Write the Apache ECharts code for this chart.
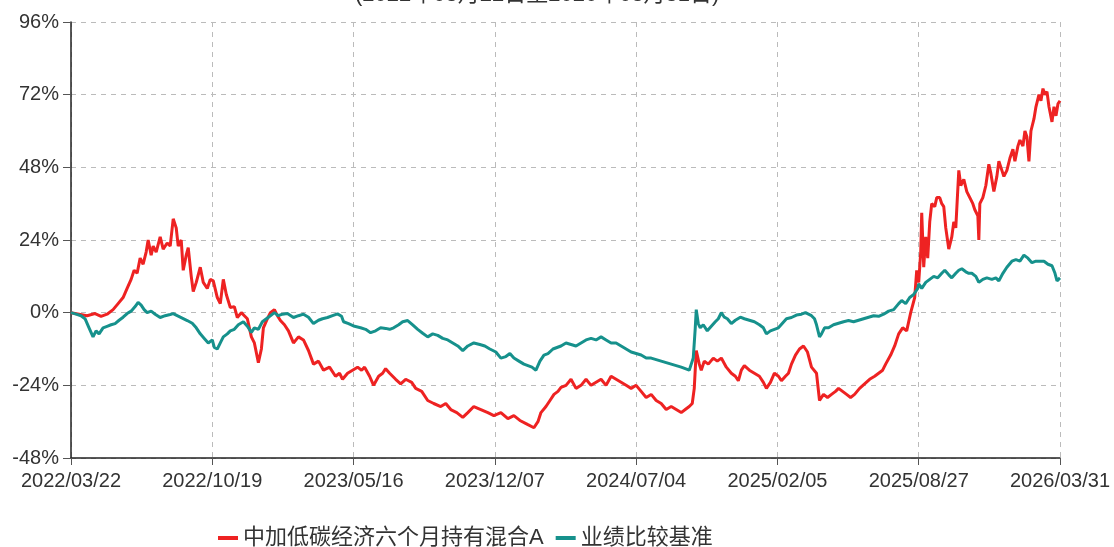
<!DOCTYPE html>
<html>
<head>
<meta charset="utf-8">
<script src="https://cdn.jsdelivr.net/npm/echarts@6/dist/echarts.min.js"></script>
<style>
html,body{margin:0;padding:0;background:#fff;}
#chart{width:1114px;height:547px;}
</style>
</head>
<body>
<div id="chart"></div>
<script>
var titleText = "(2022年03月22日至2026年03月31日)";
var seriesNames = ["中加低碳经济六个月持有混合A", "业绩比较基准"];
var tickLabels = ["2022/03/22","2022/10/19","2023/05/16","2023/12/07","2024/07/04","2025/02/05","2025/08/27","2026/03/31"];
var yTicks = [-48, -24, 0, 24, 48, 72, 96];
var dayStep = 141;
var lastDay = 987;

// [trading-day index, cumulative return %]
var fundPoints = [
[0,0],[8,-0.5],[16,-1],[24,-0.3],[30,-1.2],[36,-0.5],[42,1],[47,3],[52,5],[56,8],[60,11],[63,14],[66,13],[69,18],[72,16],[75,20],[77,24],[80,19],[82,22],[85,20],[89,25],[92,21],[96,23],[99,22],[102,31],[105,28],[107,22],[110,24],[112,14],[115,19],[117,21.5],[120,12],[122,7],[125,10],[129,15],[132,10],[136,8],[139,11],[142,10.5],[146,5],[149,3],[152,11],[155,6],[159,1.7],[163,2],[166,-1.6],[170,0],[173,-1],[176,-2],[180,-8],[183,-10],[187,-16.5],[190,-12],[192,-5],[196,-2],[199,0],[203,1],[206,-1],[209,-2.6],[213,-4],[217,-6],[222,-10],[227,-8],[232,-9],[237,-12.5],[242,-17],[247,-16],[252,-19],[258,-18],[264,-21],[268,-20],[271,-22],[276,-20],[281,-19],[286,-18],[290,-19],[293,-18],[298,-21],[302,-24],[307,-21],[311,-20],[314,-18.5],[318,-20],[324,-22],[329,-23.5],[334,-22],[340,-23],[344,-25],[350,-26],[356,-29],[362,-30],[369,-31],[374,-30],[379,-32],[385,-33],[391,-34.6],[396,-33],[402,-31],[409,-32],[416,-33],[422,-34],[429,-33],[436,-35],[442,-34],[448,-35.6],[456,-37],[462,-38],[466,-36],[469,-33],[474,-31],[478,-29],[482,-27],[486,-26],[489,-24.7],[494,-24],[499,-22],[504,-25],[509,-24],[514,-22],[519,-24],[524,-23],[529,-22],[534,-24],[539,-21],[544,-22],[549,-23],[554,-24],[559,-25],[564,-24],[569,-26],[574,-28],[579,-27],[584,-29],[589,-30],[594,-32],[599,-31],[604,-32],[609,-33],[613,-32],[617,-31],[620,-30],[622,-25],[624,-12.5],[627,-17],[629,-19],[632,-16],[636,-17],[641,-15],[645,-16],[649,-15],[654,-18],[659,-20],[663,-21],[666,-22.5],[669,-19],[672,-17.5],[677,-19],[682,-20],[687,-21],[691,-23],[694,-25],[698,-23],[702,-20],[706,-21],[709,-22.5],[713,-21],[716,-20],[719,-17],[723,-14],[727,-12],[731,-11],[735,-13],[739,-18],[744,-20],[747,-29],[751,-27],[755,-28],[759,-27],[763,-26],[766,-25],[770,-26],[774,-27],[778,-28],[782,-27],[787,-25],[792,-23.5],[797,-22],[802,-21],[806,-20],[810,-19],[813,-17],[818,-14],[822,-11],[826,-7],[830,-5],[834,-6],[838,0],[842,5],[844,14],[846,10],[848,20],[849,33],[851,15],[853,25],[855,18],[857,30],[859,36],[862,35],[864,38],[867,38],[869,36],[871,35],[873,28],[876,21],[879,25],[881,30],[883,28],[886,47],[888,42],[891,44],[894,40],[897,38],[900,36],[902,34],[905,32],[906,24],[907,36],[910,38],[913,42],[916,49],[918,46],[921,40],[924,45],[926,50],[929,47],[931,45],[934,47],[937,51],[940,54],[942,50],[945,55],[947,57],[950,55],[952,60],[954,58],[956,50],[958,60],[961,64],[963,68],[966,72],[968,70],[970,74],[972,72],[974,73],[976,68],[979,63],[981,68],[983,65],[985,69],[987,70]
];

var benchPoints = [
[0,0],[5,-0.5],[10,-1],[14,-2],[18,-5],[22,-8],[25,-6],[28,-7],[32,-5],[36,-4.5],[40,-4],[44,-3.6],[48,-2.5],[52,-1.5],[56,-0.3],[60,0.5],[64,2],[67,3.4],[70,2.5],[73,1],[76,0],[80,0.5],[84,-0.5],[89,-1.6],[94,-1],[99,-0.6],[102,-0.3],[106,-1],[111,-1.8],[116,-2.6],[121,-3.5],[125,-5],[129,-7],[133,-8.5],[137,-10],[141,-9],[143,-11.5],[146,-12],[149,-10],[152,-8],[156,-7],[159,-6],[163,-5.5],[167,-4],[172,-3],[176,-4.5],[180,-6.5],[183,-5],[187,-5.5],[191,-3],[195,-2],[199,-1],[203,0],[207,-1],[211,-0.5],[216,-0.3],[222,-1.6],[227,-1],[232,-0.5],[237,-1.5],[242,-3.6],[247,-2.5],[251,-2],[256,-1.6],[261,-1],[266,-0.4],[270,-1.2],[272,-3],[277,-3.6],[283,-4.5],[289,-5],[294,-5.5],[299,-6.6],[304,-6],[309,-5],[314,-5.2],[318,-5.5],[322,-5],[327,-4],[331,-3],[336,-2.6],[341,-4],[346,-5.5],[351,-6.8],[356,-8],[361,-7],[366,-7.5],[371,-8.5],[376,-9],[381,-10],[386,-11],[391,-12.5],[396,-11],[402,-10],[408,-10.5],[413,-11],[418,-12],[424,-13],[429,-15],[434,-14.5],[438,-13.5],[442,-15],[447,-16],[452,-17],[456,-17.5],[460,-18],[464,-19],[468,-16],[472,-14],[476,-13.5],[481,-12],[485,-11.5],[489,-11],[494,-10],[499,-10.5],[504,-11],[509,-10],[514,-9],[519,-8.5],[524,-9],[529,-8],[534,-9],[539,-10],[544,-10],[549,-11],[554,-12],[559,-13],[564,-13.5],[569,-14],[574,-15],[579,-15],[584,-15.5],[589,-16],[594,-16.5],[599,-17],[604,-17.5],[609,-18],[613,-18.5],[617,-19],[619,-17],[621,-15],[623,-5],[624,1],[626,-3.6],[628,-5],[631,-4],[635,-6],[639,-4.5],[643,-3],[646,-2],[649,0],[652,-1.5],[655,-2],[659,-3.6],[663,-2.5],[668,-1.5],[672,-2],[677,-2.5],[682,-3],[687,-4],[691,-5],[694,-7],[698,-6],[702,-5.5],[706,-5],[710,-3.5],[714,-2],[719,-1.6],[724,-0.8],[729,-0.5],[733,0],[736,-0.5],[739,-1],[742,-2],[744,-4],[747,-8],[749,-7],[752,-5],[756,-5],[761,-4],[766,-3.5],[771,-3],[776,-2.6],[781,-3],[786,-2.5],[791,-2],[796,-1.5],[801,-1],[806,-1.2],[811,-0.5],[816,0.5],[821,1],[826,3],[829,4],[833,3],[837,5],[841,6],[845,8],[846,9.5],[849,8],[853,10],[857,11],[861,12],[865,11.5],[869,13],[872,14],[876,12.5],[879,11.5],[883,13],[886,14],[889,14.5],[893,13.5],[896,13],[899,13],[903,12],[906,10],[910,11],[914,11.5],[919,11],[923,11.5],[926,10.5],[930,13],[934,15],[939,17],[943,17.5],[947,17],[951,19],[955,18],[959,16.5],[963,17],[967,17],[971,17],[975,16],[979,15.5],[982,13],[984,10.5],[987,11.5]
];

var FONT = "Arial, 'Liberation Sans', 'Noto Sans CJK SC', sans-serif";
var chart = echarts.init(document.getElementById('chart'), null, {renderer: 'canvas'});
chart.setOption({
  backgroundColor: '#ffffff',
  animation: false,
  title: {
    text: titleText,
    left: 350,
    top: -21,
    textStyle: {fontFamily: FONT, fontSize: 22, fontWeight: 'normal', color: '#333'}
  },
  legend: {
    data: seriesNames,
    left: 213,
    top: 522,
    icon: 'rect',
    itemWidth: 20,
    itemHeight: 4,
    itemGap: 12,
    textStyle: {fontFamily: FONT, fontSize: 22, color: '#333'}
  },
  grid: {left: 71, right: 54, top: 22, bottom: 89, containLabel: false},
  xAxis: {
    type: 'value',
    min: 0,
    max: lastDay,
    interval: dayStep,
    axisLine: {show: true, onZero: false, lineStyle: {color: '#222', width: 1.5}},
    axisTick: {show: true, length: 7, lineStyle: {color: '#555'}},
    axisLabel: {
      fontFamily: FONT, fontSize: 20, color: '#333', margin: 13,
      showMinLabel: true, showMaxLabel: true,
      formatter: function (v) { return tickLabels[Math.round(v / dayStep)] || ''; }
    },
    splitLine: {show: true, lineStyle: {color: '#bbb', type: [5, 5], width: 1}}
  },
  yAxis: {
    type: 'value',
    min: yTicks[0],
    max: yTicks[yTicks.length - 1],
    interval: 24,
    axisLine: {show: true, onZero: false, lineStyle: {color: '#222', width: 1.5}},
    axisTick: {show: true, length: 8, lineStyle: {color: '#555'}},
    axisLabel: {fontFamily: FONT, fontSize: 20, color: '#333', margin: 12, formatter: '{value}%'},
    splitLine: {show: true, lineStyle: {color: '#bbb', type: [5, 5], width: 1}}
  },
  series: [
    {
      name: seriesNames[0],
      type: 'line',
      data: fundPoints,
      showSymbol: false,
      symbol: 'none',
      color: '#ee2222',
      lineStyle: {width: 3, color: '#ee2222'}
    },
    {
      name: seriesNames[1],
      type: 'line',
      data: benchPoints,
      showSymbol: false,
      symbol: 'none',
      color: '#16918c',
      lineStyle: {width: 3, color: '#16918c'}
    }
  ]
});
</script>
</body>
</html>
